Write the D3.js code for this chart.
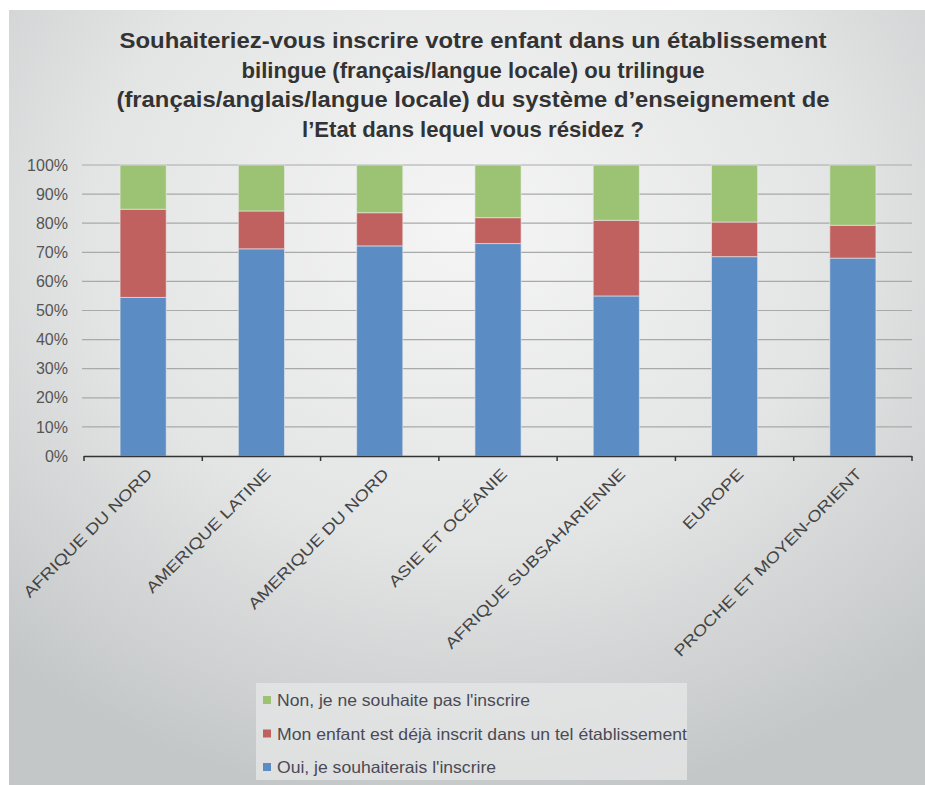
<!DOCTYPE html>
<html><head><meta charset="utf-8">
<script src="https://cdn.jsdelivr.net/npm/d3@7"></script>
<style>html,body{margin:0;padding:0;background:#fff;}svg{display:block;}</style>
</head><body>
<script>
const categories = ["AFRIQUE DU NORD","AMERIQUE LATINE","AMERIQUE DU NORD","ASIE ET OCÉANIE","AFRIQUE SUBSAHARIENNE","EUROPE","PROCHE ET MOYEN-ORIENT"];
const oui = [54.5, 71.2, 72.2, 73.0, 55.0, 68.5, 68.0];
const deja = [30.3, 13.0, 11.4, 8.9, 26.0, 11.9, 11.3];
const non = [15.2, 15.8, 16.4, 18.1, 19.0, 19.6, 20.7];
const seriesNames = ["Oui, je souhaiterais l'inscrire","Mon enfant est déjà inscrit dans un tel établissement","Non, je ne souhaite pas l'inscrire"];
const seriesColors = ["#5b8cc3","#c0605f","#9cc374"];
const yTicks = [0,10,20,30,40,50,60,70,80,90,100];
const titleLines = ["Souhaiteriez-vous inscrire votre enfant dans un établissement","bilingue (français/langue locale) ou trilingue","(français/anglais/langue locale) du système d’enseignement de","l’Etat dans lequel vous résidez ?"];
const titleWidths = [707, 463, 713, 342];

const W = 925, H = 785;
const svg = d3.select("body").append("svg").attr("width", W).attr("height", H);
const defs = svg.append("defs");
const grad = defs.append("radialGradient").attr("id","bg").attr("cx","50%").attr("cy","28%").attr("r","75%");
grad.append("stop").attr("offset","0%").attr("stop-color","#f5f5f5");
grad.append("stop").attr("offset","55%").attr("stop-color","#e3e4e4");
grad.append("stop").attr("offset","100%").attr("stop-color","#c4c7c8");
svg.append("rect").attr("x",9).attr("y",10).attr("width",W-9).attr("height",H-10).attr("fill","url(#bg)");

// title
const title = svg.append("g").attr("font-family","'Liberation Sans', Arial, sans-serif").attr("font-weight","bold").attr("font-size",22.5).attr("fill","#333");
titleLines.forEach((t,i)=>{
  title.append("text").attr("x",473).attr("y",48+i*29.7).attr("text-anchor","middle")
    .attr("textLength",titleWidths[i]).attr("lengthAdjust","spacingAndGlyphs").text(t);
});

const x = d3.scaleBand().domain(categories).range([84,912]).paddingInner(0.61).paddingOuter(0.305);
const y = d3.scaleLinear().domain([0,100]).range([456,165]);

// grid
svg.append("g").selectAll("line").data(yTicks.filter(d=>d>0)).join("line")
  .attr("x1",82).attr("x2",912).attr("y1",d=>y(d)).attr("y2",d=>y(d))
  .attr("stroke","#a9a9a9").attr("stroke-width",1.2);

// y labels
const yAxis = d3.axisLeft(y).tickValues(yTicks).tickFormat(d=>d+"%").tickSize(0).tickPadding(0);
const yg = svg.append("g").attr("transform","translate(68,0)").call(yAxis);
yg.select(".domain").remove();
yg.selectAll("text").attr("font-family","'Liberation Sans', Arial, sans-serif").attr("font-size",16).attr("fill","#555");

// stacked bars
const rows = categories.map((c,i)=>({cat:c, oui:oui[i], deja:deja[i], non:non[i]}));
const stack = d3.stack().keys(["oui","deja","non"])(rows);
svg.append("g").selectAll("g").data(stack).join("g").attr("fill",(d,i)=>seriesColors[i])
  .selectAll("rect").data(d=>d).join("rect")
  .attr("x",d=>x(d.data.cat)).attr("width",x.bandwidth())
  .attr("y",d=>y(d[1])).attr("height",d=>y(d[0])-y(d[1]))
  .attr("stroke","rgba(235,235,235,0.6)").attr("stroke-width",1);

// x axis
svg.append("line").attr("x1",84).attr("x2",912).attr("y1",456.5).attr("y2",456.5).attr("stroke","#333").attr("stroke-width",1.5);
const bounds = d3.range(categories.length+1).map(i=>x.range()[0]+i*x.step());
svg.append("g").selectAll("line").data(bounds).join("line")
  .attr("x1",d=>d).attr("x2",d=>d).attr("y1",456).attr("y2",461).attr("stroke","#333").attr("stroke-width",1.5);

const xAxis = d3.axisBottom(x).tickSize(0).tickPadding(0);
const xg = svg.append("g").attr("transform","translate(0,456)").call(xAxis);
xg.select(".domain").remove();
xg.selectAll("text").attr("font-family","'Liberation Sans', Arial, sans-serif").attr("font-size",15.5).attr("fill","#444")
  .attr("text-anchor","end").attr("dy","0").attr("transform","translate(10,19) rotate(-45)")
  .each(function(){ const L = this.getComputedTextLength(); d3.select(this).attr("textLength", L*1.2).attr("lengthAdjust","spacingAndGlyphs"); });

// legend
const lg = svg.append("g");
lg.append("rect").attr("x",256).attr("y",683).attr("width",431).attr("height",97).attr("fill","#e5e6e6").attr("opacity",0.8);
const legendOrder = [2,1,0];
const legendWidths = [253, 410, 219];
legendOrder.forEach((s,i)=>{
  const yy = 700 + i*33.5;
  lg.append("rect").attr("x",263).attr("y",yy-4).attr("width",8).attr("height",8).attr("fill",seriesColors[s]);
  lg.append("text").attr("x",277).attr("y",yy+6).attr("font-family","'Liberation Sans', Arial, sans-serif")
    .attr("font-size",16.5).attr("fill","#4a4a55").attr("textLength",legendWidths[i]).attr("lengthAdjust","spacingAndGlyphs")
    .text(seriesNames[s]);
});
</script>
</body></html>
